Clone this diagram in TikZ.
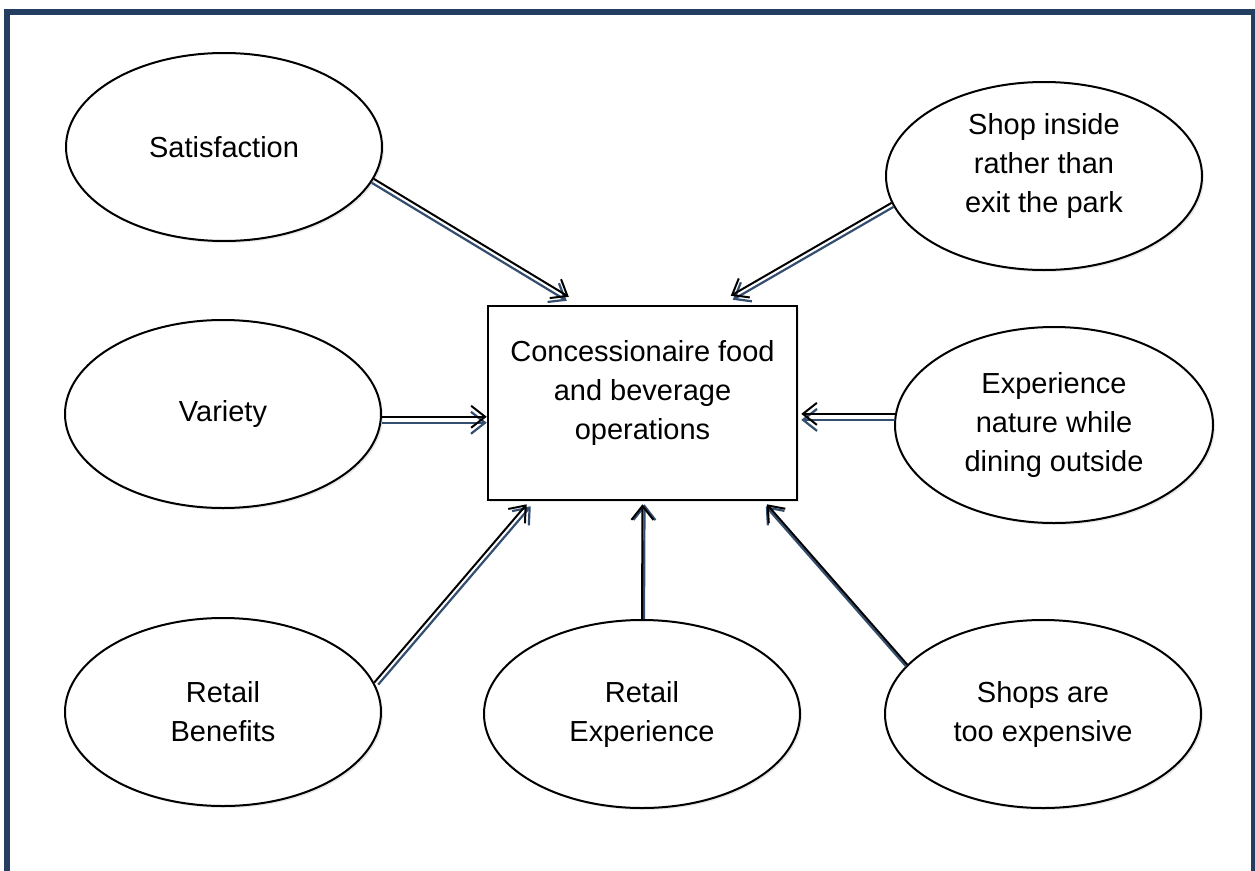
\documentclass[tikz,border=0pt]{standalone}
\usepackage{fontspec}
\setmainfont{Liberation Sans}
\usetikzlibrary{shapes.geometric,arrows.meta,calc,shadows}
\definecolor{frameblue}{RGB}{36,62,98}
\definecolor{arrblue}{RGB}{52,78,112}
\begin{document}
\begin{tikzpicture}[x=1pt,y=-1pt,
  txt/.style={font=\fontsize{29}{39}\selectfont, align=center, text=black},
  oval/.style={ellipse, draw=black, line width=2pt, fill=white, inner sep=0pt,
    minimum width=316pt, minimum height=188pt, txt,
    drop shadow={shadow xshift=2pt, shadow yshift=-2pt, opacity=0.18}},
  mainbox/.style={rectangle, draw=black, line width=2.5pt, fill=white, inner sep=0pt,
    minimum width=309pt, minimum height=194pt, txt,
    drop shadow={shadow xshift=2pt, shadow yshift=-2pt, opacity=0.18}},
  blackarr/.style={draw=black, line width=2pt, -{Straight Barb[length=14pt,width=22pt,line width=2pt]}},
  bluearr/.style={draw=arrblue, line width=2.2pt, -{Straight Barb[length=14pt,width=22pt,line width=2.2pt]}}
]
\useasboundingbox (0,0) rectangle (1255,870);
\fill[white] (0,0) rectangle (1255,870);
\draw[frameblue, line width=6pt] (7,890) -- (7,11.5) -- (1254,11.5) -- (1254,890);

\node[mainbox, text depth=26pt] (box) at (642.5,403) {Concessionaire food\\and beverage\\operations};

\node[oval] (sat) at (224,147) {Satisfaction};
\node[oval] (var) at (223,414) {Variety};
\node[oval] (rb) at (223,712) {Retail\\Benefits};
\node[oval] (re) at (642,714) {Retail\\Experience};
\node[oval] (se) at (1043,714) {Shops are\\too expensive};
\node[oval, text depth=27pt] (shop) at (1044,176) {Shop inside\\rather than\\exit the park};
\node[oval, minimum width=318pt, minimum height=196pt] (exp) at (1054,425) {Experience\\nature while\\dining outside};

% connectors: blue copy offset, black on top
\draw[bluearr, transform canvas={shift={(-2,4)}}] (sat.-12) -- ($(box.north west)+(82,-8)$);
\draw[blackarr] (sat.-12) -- ($(box.north west)+(82,-8)$);

\draw[bluearr, transform canvas={shift={(2,4)}}] (shop.190) -- ($(box.north west)+(244,-9)$);
\draw[blackarr] (shop.190) -- ($(box.north west)+(244,-9)$);

\draw[bluearr, transform canvas={shift={(0,6)}}] (var.-1) -- (box.west |- var.-1);
\draw[blackarr] (var.-1) -- (box.west |- var.-1);

\draw[bluearr, transform canvas={shift={(0,6)}}] (exp.176) -- ($(box.east |- exp.176)+(3,0)$);
\draw[blackarr] (exp.176) -- ($(box.east |- exp.176)+(3,0)$);

\draw[bluearr, transform canvas={shift={(4,2)}}] (rb.11) -- ($(box.south west)+(40,3)$);
\draw[blackarr] (rb.11) -- ($(box.south west)+(40,3)$);

\draw[bluearr, transform canvas={shift={(2,0)}}] (re.north) -- ($(box.south)+(0,3)$);
\draw[blackarr] (re.north) -- ($(box.south)+(0,3)$);

\draw[bluearr, transform canvas={shift={(-1,2)}}] (se.160) -- ($(box.south west)+(280,3)$);
\draw[blackarr] (se.160) -- ($(box.south west)+(280,3)$);
\end{tikzpicture}
\end{document}
